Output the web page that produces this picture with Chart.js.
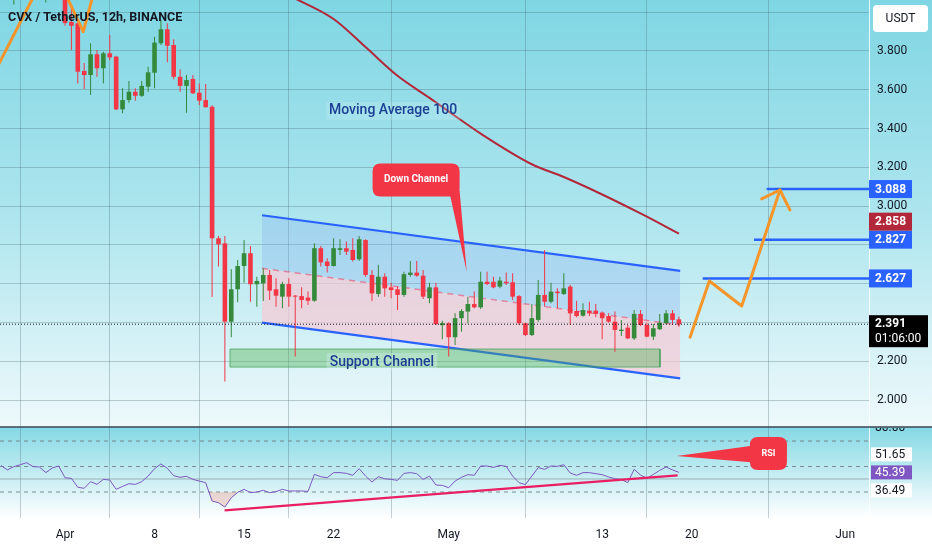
<!DOCTYPE html>
<html>
<head>
<meta charset="utf-8">
<title>CVX / TetherUS 12h</title>
<script src="https://cdn.jsdelivr.net/npm/chart.js@4.4.1/dist/chart.umd.min.js"></script>
<style>
  html, body { margin: 0; padding: 0; background: #ffffff; overflow: hidden; }
  #wrap { position: relative; width: 932px; height: 550px; }
</style>
</head>
<body>
<div id="wrap"><canvas id="chart"></canvas></div>
<script>
// x values are days counted from Apr 1 00:00, one candle every 12h
const firstCandleDay = -5;
const candleStep = 0.5;

const opens = [4.20, 4.15, 4.18, 4.22, 4.27, 4.21, 4.16, 4.11, 4.14, 4.20,
  4.16, 3.95, 3.943, 3.697, 3.676, 3.783, 3.711, 3.788, 3.771, 3.499,
  3.547, 3.590, 3.569, 3.616, 3.688, 3.840, 3.912, 3.831, 3.667, 3.620,
  3.656, 3.585, 3.547, 3.513, 2.834, 2.808, 2.404, 2.571, 2.691, 2.757,
  2.597, 2.601, 2.645, 2.571, 2.533, 2.598, 2.538, 2.536, 2.528, 2.512,
  2.783, 2.714, 2.691, 2.774, 2.783, 2.774, 2.726, 2.825, 2.645, 2.547,
  2.636, 2.581, 2.571, 2.542, 2.645, 2.657, 2.641, 2.525, 2.581, 2.386,
  2.396, 2.324, 2.422, 2.456, 2.495, 2.478, 2.610, 2.610, 2.585, 2.610,
  2.607, 2.536, 2.396, 2.335, 2.413, 2.542, 2.507, 2.559, 2.547, 2.585,
  2.459, 2.435, 2.461, 2.461, 2.451, 2.433, 2.404, 2.356, 2.373, 2.318,
  2.444, 2.387, 2.327, 2.365, 2.396, 2.447, 2.416];
const highs = [4.26, 4.22, 4.26, 4.30, 4.32, 4.26, 4.21, 4.17, 4.24, 4.25,
  4.19, 4.03, 3.95, 3.738, 3.840, 3.805, 3.796, 3.882, 3.775, 3.608,
  3.645, 3.608, 3.645, 3.719, 3.874, 3.960, 3.943, 3.860, 3.706, 3.676,
  3.676, 3.633, 3.630, 3.520, 2.846, 2.846, 2.674, 2.722, 2.825, 2.794,
  2.636, 2.679, 2.671, 2.628, 2.610, 2.628, 2.542, 2.581, 2.559, 2.808,
  2.794, 2.731, 2.834, 2.829, 2.817, 2.834, 2.846, 2.829, 2.671, 2.697,
  2.654, 2.605, 2.585, 2.662, 2.717, 2.717, 2.671, 2.605, 2.605, 2.409,
  2.401, 2.447, 2.468, 2.533, 2.559, 2.662, 2.662, 2.636, 2.636, 2.657,
  2.654, 2.542, 2.399, 2.495, 2.619, 2.774, 2.605, 2.576, 2.654, 2.594,
  2.512, 2.499, 2.507, 2.495, 2.456, 2.447, 2.456, 2.413, 2.387, 2.464,
  2.464, 2.399, 2.392, 2.444, 2.464, 2.464, 2.430];
const lows = [4.12, 4.08, 4.04, 4.15, 4.18, 4.12, 4.09, 4.05, 4.10, 4.12,
  3.93, 3.805, 3.633, 3.604, 3.573, 3.667, 3.633, 3.754, 3.496, 3.479,
  3.533, 3.544, 3.564, 3.590, 3.608, 3.831, 3.742, 3.654, 3.590, 3.482,
  3.578, 3.522, 3.508, 2.531, 2.688, 2.095, 2.324, 2.504, 2.605, 2.507,
  2.481, 2.511, 2.516, 2.481, 2.473, 2.481, 2.224, 2.473, 2.490, 2.507,
  2.688, 2.657, 2.688, 2.748, 2.748, 2.714, 2.717, 2.636, 2.511, 2.533,
  2.533, 2.525, 2.464, 2.533, 2.636, 2.636, 2.521, 2.499, 2.387, 2.313,
  2.224, 2.284, 2.352, 2.396, 2.473, 2.470, 2.593, 2.576, 2.576, 2.593,
  2.516, 2.387, 2.330, 2.330, 2.404, 2.481, 2.499, 2.473, 2.542, 2.387,
  2.427, 2.430, 2.433, 2.427, 2.313, 2.399, 2.249, 2.330, 2.313, 2.309,
  2.382, 2.324, 2.309, 2.361, 2.391, 2.387, 2.378];
const closes = [4.15, 4.18, 4.22, 4.27, 4.21, 4.16, 4.11, 4.14, 4.20, 4.16,
  3.944, 3.93, 3.693, 3.676, 3.783, 3.711, 3.788, 3.767, 3.499, 3.547,
  3.590, 3.569, 3.620, 3.690, 3.843, 3.912, 3.827, 3.667, 3.620, 3.650,
  3.582, 3.544, 3.510, 2.834, 2.803, 2.404, 2.571, 2.691, 2.757, 2.597,
  2.614, 2.645, 2.564, 2.538, 2.598, 2.533, 2.533, 2.516, 2.512, 2.783,
  2.710, 2.691, 2.783, 2.783, 2.765, 2.722, 2.829, 2.645, 2.550, 2.636,
  2.576, 2.567, 2.542, 2.649, 2.657, 2.641, 2.533, 2.581, 2.391, 2.396,
  2.324, 2.422, 2.459, 2.495, 2.478, 2.610, 2.598, 2.581, 2.616, 2.602,
  2.533, 2.396, 2.335, 2.422, 2.542, 2.507, 2.559, 2.551, 2.576, 2.447,
  2.433, 2.464, 2.447, 2.444, 2.422, 2.404, 2.361, 2.363, 2.318, 2.444,
  2.387, 2.327, 2.370, 2.399, 2.447, 2.413, 2.391];
const rsiValues = [50.7, 47.3, 49.9, 51.4, 53.0, 49.9, 49.6, 45.2, 48.8, 50.4,
  41.2, 40.7, 33.7, 32.9, 38.1, 36.0, 39.9, 39.4, 32.1, 34.4,
  36.5, 36.0, 38.1, 42.5, 48.3, 52.0, 48.6, 42.8, 41.5, 42.3,
  39.9, 38.6, 37.3, 22.9, 21.6, 18.2, 25.5, 29.7, 32.1, 29.5,
  30.0, 31.3, 29.5, 30.3, 32.1, 30.8, 30.8, 30.8, 30.5, 43.8,
  42.0, 41.2, 45.2, 45.2, 44.6, 43.1, 48.3, 42.5, 37.8, 42.0,
  40.4, 39.9, 39.1, 44.6, 45.2, 44.4, 39.9, 42.5, 35.5, 35.2,
  33.4, 38.6, 41.5, 43.6, 43.1, 50.4, 50.4, 49.3, 50.9, 50.1,
  42.5, 37.3, 35.8, 42.5, 49.1, 47.8, 50.4, 50.1, 51.4, 44.9,
  43.1, 45.2, 45.2, 44.4, 43.6, 41.8, 40.4, 39.9, 37.3, 47.8,
  43.3, 40.7, 43.8, 47.0, 49.6, 47.3, 45.39];

// moving average 100
const maDays = [17, 18, 21, 23.5, 26, 28.5, 30.5, 32.5, 36.5, 39, 42, 45, 48];
const maValues = [4.10, 4.07, 3.965, 3.82, 3.672, 3.558, 3.465, 3.374, 3.216, 3.150, 3.060, 2.962, 2.858];

const dateTickDays = [0, 7, 14, 21, 30, 42, 49, 61];
const dateTickLabels = ['Apr', '8', '15', '22', 'May', '13', '20', 'Jun'];
const priceTicks = [2.0, 2.2, 2.4, 2.6, 2.8, 3.0, 3.2, 3.4, 3.6, 3.8, 4.0];

// drawings on the price pane
const channelDays = [15.4, 48.1];
const channelUpper = [2.953, 2.666];
const channelMid = [2.679, 2.387];
const channelLower = [2.399, 2.112];
const supportDays = [12.9, 46.52];
const supportPrices = [2.263, 2.170];
const targetLevels = [3.088, 2.827, 2.627];
const targetStartDays = [54.86, 53.87, 49.86];
const projDays = [48.87, 50.38, 52.91, 55.90];
const projPrices = [2.324, 2.614, 2.485, 3.083];
const arrowDays = [54.47, 55.90, 56.68];
const arrowPrices = [3.037, 3.083, 2.980];
const oldPathADays = [-5.3, -1.5];
const oldPathAPrices = [3.717, 4.204];
const oldPathBDays = [-0.5, 1.43, 2.6];
const oldPathBPrices = [4.169, 3.90, 4.189];

// drawings on the RSI pane
const rsiLevels = [70, 50, 30];
const rsiBase = 40.2;
const rsiTrendDays = [12.48, 47.9];
const rsiTrendValues = [15.6, 43.1];
const rsiBandTags = [51.65, 36.49];

// scale ranges (price pane sits above the RSI pane on one chart area)
const xMin = -5.082, xMax = 62.862;
const priceMin = 1.3915, priceMax = 4.063, pricePaneFloor = 1.861;
const rsiMin = 9.61, rsiMax = 415.9;

const UP = '#35893a', DOWN = '#f23645', BLUE = '#2962ff', ORANGE = '#f5952a';
const MA_COLOR = '#b2283a', RSI_COLOR = '#7e57c2', TEXT = '#131722';
const FONT = 'Roboto, "Liberation Sans", sans-serif';

const pts = (xs, ys) => xs.map((x, i) => ({ x, y: ys[i] }));
const candleX = opens.map((_, i) => firstCandleDay + i * candleStep);
const candleColor = opens.map((o, i) => (closes[i] >= o ? UP : DOWN));
const lastClose = closes[closes.length - 1];
const lastRsi = rsiValues[rsiValues.length - 1];
const lastMa = maValues[maValues.length - 1];

const callouts = [
  { axis: 'y', day: 27.45, value: 3.135, tipDay: 31.41, tipValue: 2.662, w: 87, h: 33, text: 'Down Channel', font: 'bold 10px ' + FONT },
  { axis: 'rsi', day: 55.0, value: 60.2, tipDay: 47.83, tipValue: 58.2, w: 37, h: 33, text: 'RSI', font: 'bold 9px ' + FONT }
];

function rr(ctx, x, y, w, h, r) {
  ctx.beginPath();
  ctx.moveTo(x + r, y);
  ctx.lineTo(x + w - r, y);
  ctx.quadraticCurveTo(x + w, y, x + w, y + r);
  ctx.lineTo(x + w, y + h - r);
  ctx.quadraticCurveTo(x + w, y + h, x + w - r, y + h);
  ctx.lineTo(x + r, y + h);
  ctx.quadraticCurveTo(x, y + h, x, y + h - r);
  ctx.lineTo(x, y + r);
  ctx.quadraticCurveTo(x, y, x + r, y);
  ctx.closePath();
}

function textLabel(ctx, text, x, y, font, color, bg) {
  ctx.font = font;
  const w = ctx.measureText(text).width;
  if (bg) {
    ctx.fillStyle = bg;
    ctx.fillRect(x - w / 2 - 3, y - 9, w + 6, 18);
  }
  ctx.fillStyle = color;
  ctx.textAlign = 'center';
  ctx.textBaseline = 'middle';
  ctx.fillText(text, x, y);
}

const panes = {
  id: 'panes',
  beforeDraw(chart) {
    const { ctx, width, height } = chart;
    const split = chart.scales.y.getPixelForValue(pricePaneFloor);
    const bottom = chart.chartArea.bottom;
    ctx.save();
    ctx.fillStyle = '#ffffff';
    ctx.fillRect(0, 0, width, height);
    let g = ctx.createLinearGradient(0, 0, 0, split);
    g.addColorStop(0, '#7fd6e3');
    g.addColorStop(0.5, '#ade5ee');
    g.addColorStop(1, '#eef9fb');
    ctx.fillStyle = g;
    ctx.fillRect(0, 0, width, split);
    g = ctx.createLinearGradient(0, split, 0, bottom);
    g.addColorStop(0, '#84d8e4');
    g.addColorStop(1, '#ffffff');
    ctx.fillStyle = g;
    ctx.fillRect(0, split, width, bottom - split);
    ctx.restore();
  },
  afterDatasetsDraw(chart) {
    const { ctx } = chart;
    const x = chart.scales.x, y = chart.scales.y;
    ctx.save();
    textLabel(ctx, 'Moving Average 100', x.getPixelForValue(25.65), y.getPixelForValue(3.491),
      '500 14px ' + FONT, '#1c3f94', 'rgba(215,240,247,0.22)');
    textLabel(ctx, 'Support Channel', x.getPixelForValue(24.78), y.getPixelForValue(2.196),
      '500 14px ' + FONT, '#1c3f94', 'rgba(225,244,250,0.3)');
    callouts.forEach(c => {
      const s = chart.scales[c.axis];
      const cx = x.getPixelForValue(c.day), cy = s.getPixelForValue(c.value);
      const tx = x.getPixelForValue(c.tipDay), ty = s.getPixelForValue(c.tipValue);
      ctx.fillStyle = DOWN;
      ctx.beginPath();
      if (c.axis === 'y') {
        ctx.moveTo(cx + 33, cy + c.h / 2 - 6);
        ctx.lineTo(cx + c.w / 2, cy + c.h / 2 - 6);
      } else {
        ctx.moveTo(cx - c.w / 2 + 4, cy - 8);
        ctx.lineTo(cx - c.w / 2 + 4, cy + 9);
      }
      ctx.lineTo(tx, ty);
      ctx.closePath();
      ctx.fill();
      rr(ctx, cx - c.w / 2, cy - c.h / 2, c.w, c.h, 8);
      ctx.fill();
      textLabel(ctx, c.text, cx, cy, c.font, '#ffffff');
    });
    ctx.restore();
  },
  afterDraw(chart) {
    const { ctx, width } = chart;
    const y = chart.scales.y, r = chart.scales.rsi;
    const left = chart.chartArea.right;
    const split = y.getPixelForValue(pricePaneFloor);
    const bottom = chart.chartArea.bottom;
    ctx.save();

    ctx.strokeStyle = '#3b4652';
    ctx.lineWidth = 1.5;
    ctx.beginPath();
    ctx.moveTo(0, split);
    ctx.lineTo(width, split);
    ctx.stroke();

    // price tick labels
    ctx.fillStyle = TEXT;
    ctx.font = '12px ' + FONT;
    ctx.textAlign = 'left';
    ctx.textBaseline = 'middle';
    priceTicks.forEach(v => ctx.fillText(v.toFixed(3), left + 8, y.getPixelForValue(v)));

    // price axis tags, pushed upward when they collide
    const tags = targetLevels.map(v => ({ v, bg: BLUE }));
    tags.push({ v: lastMa, bg: MA_COLOR });
    tags.sort((a, b) => a.v - b.v);
    let prevTop = Infinity;
    tags.forEach(t => {
      let yc = y.getPixelForValue(t.v);
      if (yc + 9 > prevTop) yc = prevTop - 9;
      prevTop = yc - 9;
      ctx.fillStyle = t.bg;
      ctx.fillRect(left, yc - 9, 43, 18);
      ctx.fillStyle = '#ffffff';
      ctx.font = 'bold 12px ' + FONT;
      ctx.fillText(t.v.toFixed(3), left + 6, yc + 0.5);
    });

    const ly = y.getPixelForValue(lastClose);
    ctx.fillStyle = '#000000';
    ctx.fillRect(left, ly - 9, 59, 32);
    ctx.fillStyle = '#ffffff';
    ctx.font = 'bold 12px ' + FONT;
    ctx.fillText(lastClose.toFixed(3), left + 6, ly);
    ctx.font = '12px ' + FONT;
    ctx.fillText('01:06:00', left + 6, ly + 15);

    // RSI pane tags
    ctx.save();
    ctx.beginPath();
    ctx.rect(left, split + 1, width - left, bottom - split);
    ctx.clip();
    ctx.fillStyle = TEXT;
    ctx.font = '12px ' + FONT;
    ctx.fillText('80.00', left + 6, r.getPixelForValue(80));
    ctx.restore();

    const ry = r.getPixelForValue(lastRsi);
    const upY = Math.min(r.getPixelForValue(rsiBandTags[0]), ry - 18);
    const dnY = Math.max(r.getPixelForValue(rsiBandTags[1]), ry + 18);
    [[rsiBandTags[0], upY, '#ffffff', TEXT], [lastRsi, ry, RSI_COLOR, '#ffffff'], [rsiBandTags[1], dnY, '#ffffff', TEXT]]
      .forEach(([v, yc, bg, fg]) => {
        ctx.fillStyle = bg;
        ctx.fillRect(left + 2, yc - 7, 41, 14);
        ctx.fillStyle = fg;
        ctx.font = '12px ' + FONT;
        ctx.fillText(v.toFixed(2), left + 6, yc + 0.5);
      });

    // title and currency box
    ctx.fillStyle = TEXT;
    ctx.font = 'bold 12.5px ' + FONT;
    ctx.fillText('CVX / TetherUS, 12h, BINANCE', 8, 18);
    ctx.fillStyle = '#ffffff';
    rr(ctx, 873, 5, 55, 27, 4);
    ctx.fill();
    ctx.fillStyle = TEXT;
    ctx.font = '12px ' + FONT;
    ctx.textAlign = 'center';
    ctx.fillText('USDT', 900.5, 19);
    ctx.restore();
  }
};

const line = (data, color, width, extra) => Object.assign({
  type: 'line', data, borderColor: color, borderWidth: width,
  pointRadius: 0, fill: false, tension: 0
}, extra || {});

const datasets = [
  line(pts(channelDays, channelUpper), BLUE, 2.2, { fill: '+1', backgroundColor: 'rgba(125,165,240,0.27)', order: 30 }),
  line(pts(channelDays, channelMid), 'rgba(236,64,100,0.55)', 1.5, { borderDash: [6, 5], fill: '+1', backgroundColor: 'rgba(245,202,214,0.72)', order: 29 }),
  line(pts(channelDays, channelLower), BLUE, 2.2, { order: 28 }),
  line(pts([supportDays[0], supportDays[1], supportDays[1], supportDays[0], supportDays[0]],
    [supportPrices[0], supportPrices[0], supportPrices[1], supportPrices[1], supportPrices[0]]),
    'rgba(67,160,90,0.75)', 1, { fill: 'shape', backgroundColor: 'rgba(76,175,80,0.4)', order: 27 }),
  line(pts(maDays, maValues), MA_COLOR, 2, { cubicInterpolationMode: 'monotone', order: 26 }),
  {
    type: 'bar', order: 21, grouped: false, maxBarThickness: 1,
    data: candleX.map((x, i) => ({ x, y: [lows[i], highs[i]] })),
    backgroundColor: candleColor
  },
  {
    type: 'bar', order: 20, grouped: false, minBarLength: 1,
    categoryPercentage: 1, barPercentage: 0.72,
    data: candleX.map((x, i) => ({ x, y: [opens[i], closes[i]] })),
    backgroundColor: candleColor
  },
  line(pts([xMin, xMax], [lastClose, lastClose]), '#131722', 1, { borderDash: [1, 2], order: 12 }),
  ...targetLevels.map((v, i) => line(pts([targetStartDays[i], xMax], [v, v]), BLUE, 2.5, { order: 10 })),
  line(pts(projDays, projPrices), ORANGE, 3, { borderCapStyle: 'round', borderJoinStyle: 'round', order: 8 }),
  line(pts(arrowDays, arrowPrices), ORANGE, 3, { borderCapStyle: 'round', borderJoinStyle: 'round', order: 8 }),
  line(pts(oldPathADays, oldPathAPrices), ORANGE, 3, { order: 8 }),
  line(pts(oldPathBDays, oldPathBPrices), ORANGE, 3, { borderJoinStyle: 'round', order: 8 }),
  ...rsiLevels.map(v => line(pts([xMin, xMax], [v, v]), 'rgba(110,125,132,0.85)', 1.2, { borderDash: [4, 4], yAxisID: 'rsi', order: 7 })),
  line(pts([xMin, xMax], [rsiBase, rsiBase]), 'rgba(120,135,142,0.6)', 1, { yAxisID: 'rsi', order: 7 }),
  line(candleX.map((x, i) => ({ x, y: rsiValues[i] })), RSI_COLOR, 1, {
    yAxisID: 'rsi', order: 6,
    fill: { target: { value: 30 }, above: 'rgba(0,0,0,0)', below: 'rgba(245,140,120,0.3)' }
  }),
  line(pts(rsiTrendDays, rsiTrendValues), '#e91e63', 2.2, { yAxisID: 'rsi', order: 5 })
];

Chart.defaults.font.family = FONT;

new Chart(document.getElementById('chart'), {
  type: 'line',
  data: { datasets },
  options: {
    responsive: true,
    maintainAspectRatio: false,
    animation: false,
    devicePixelRatio: 1,
    events: [],
    layout: { padding: 0 },
    plugins: { legend: { display: false }, tooltip: { enabled: false } },
    scales: {
      x: {
        type: 'linear', min: xMin, max: xMax, offset: false,
        afterBuildTicks: s => { s.ticks = dateTickDays.map(v => ({ value: v })); },
        afterFit: s => { s.height = 32; },
        ticks: {
          autoSkip: false, maxRotation: 0, padding: 10, color: TEXT,
          font: { size: 12 },
          callback: (v, i) => dateTickLabels[i]
        },
        grid: { color: 'rgba(70,100,110,0.3)', drawTicks: false },
        border: { display: false }
      },
      y: {
        position: 'right', min: priceMin, max: priceMax,
        afterBuildTicks: s => { s.ticks = priceTicks.map(v => ({ value: v })); },
        afterFit: s => { s.width = 63; },
        ticks: { display: false },
        grid: { color: 'rgba(70,100,110,0.3)', drawTicks: false },
        border: { display: true, color: 'rgba(255,255,255,0.8)' }
      },
      rsi: { position: 'right', display: false, min: rsiMin, max: rsiMax }
    }
  },
  plugins: [panes]
});
</script>
</body>
</html>
